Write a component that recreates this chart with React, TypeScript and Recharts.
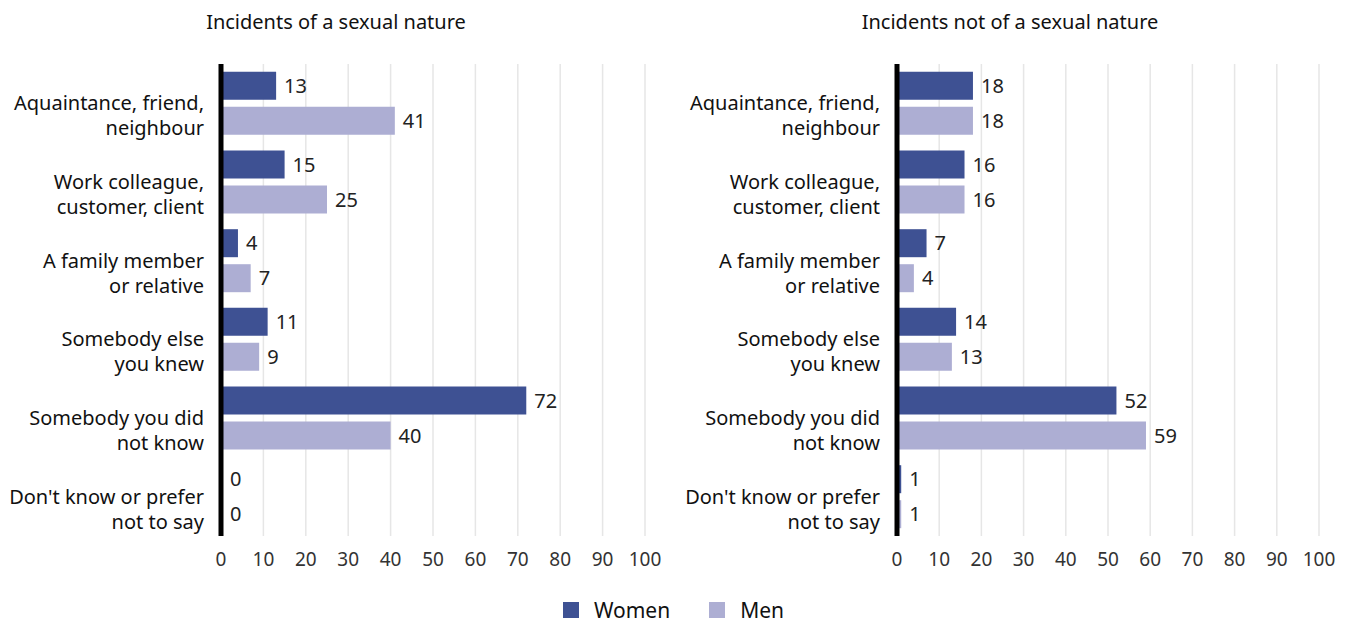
import { Bar, BarChart, CartesianGrid, LabelList, XAxis, YAxis } from "recharts";

const categories = [
  "Aquaintance, friend,\nneighbour",
  "Work colleague,\ncustomer, client",
  "A family member\nor relative",
  "Somebody else\nyou knew",
  "Somebody you did\nnot know",
  "Don't know or prefer\nnot to say",
];

const sexualWomen = [13, 15, 4, 11, 72, 0];
const sexualMen = [41, 25, 7, 9, 40, 0];
const otherWomen = [18, 16, 7, 14, 52, 1];
const otherMen = [18, 16, 4, 13, 59, 1];

const xTicks = [0, 10, 20, 30, 40, 50, 60, 70, 80, 90, 100];

const WOMEN = "#3e5193";
const MEN = "#adaed3";
const FONT = "'Noto Sans', 'Open Sans', sans-serif";

const buildRows = (women: number[], men: number[]) =>
  categories.map((name, i) => ({ name, women: women[i], men: men[i] }));

const CategoryTick = ({ x, y, payload }: any) => {
  const lines = String(payload.value).split("\n");
  return (
    <text x={x} y={y} textAnchor="end" fontSize={20} fill="#111" fontFamily={FONT}>
      {lines.map((line, i) => (
        <tspan key={i} x={x} dy={i === 0 ? 7 : 25}>
          {line}
        </tspan>
      ))}
    </text>
  );
};

function Panel({ rows, yWidth, width }: { rows: any[]; yWidth: number; width: number }) {
  return (
    <BarChart
      width={width}
      height={580}
      data={rows}
      layout="vertical"
      margin={{ top: 64, right: 28, bottom: 0, left: 0 }}
      barCategoryGap="10%"
      barGap={7}
    >
      <CartesianGrid horizontal={false} stroke="#e6e6e6" strokeWidth={1.5} />
      <XAxis
        type="number"
        domain={[0, 100]}
        ticks={xTicks}
        height={44}
        axisLine={false}
        tickLine={false}
        tickMargin={11}
        interval={0}
        tick={{ fontSize: 19, fill: "#333", fontFamily: FONT }}
      />
      <YAxis
        type="category"
        dataKey="name"
        width={yWidth}
        axisLine={{ stroke: "#000", strokeWidth: 5 }}
        tickLine={false}
        tickMargin={11}
        interval={0}
        tick={<CategoryTick />}
      />
      <Bar dataKey="women" fill={WOMEN} minPointSize={1} isAnimationActive={false}>
        <LabelList dataKey="women" position="right" offset={8} fontSize={20} fill="#222" fontFamily={FONT} />
      </Bar>
      <Bar dataKey="men" fill={MEN} minPointSize={1} isAnimationActive={false}>
        <LabelList dataKey="men" position="right" offset={8} fontSize={20} fill="#222" fontFamily={FONT} />
      </Bar>
    </BarChart>
  );
}

export default function App() {
  const titleStyle: any = {
    position: "absolute",
    top: 8,
    fontSize: 20,
    color: "#111",
    fontFamily: FONT,
    textAlign: "center",
    width: 400,
  };
  return (
    <div style={{ position: "absolute", left: 0, top: 0, width: 1347, height: 622, background: "#fff", fontFamily: FONT }}>
      <div style={{ ...titleStyle, left: 136 }}>Incidents of a sexual nature</div>
      <div style={{ ...titleStyle, left: 810 }}>Incidents not of a sexual nature</div>
      <div style={{ position: "absolute", left: 0, top: 0 }}>
        <Panel rows={buildRows(sexualWomen, sexualMen)} yWidth={221} width={673} />
      </div>
      <div style={{ position: "absolute", left: 673, top: 0 }}>
        <Panel rows={buildRows(otherWomen, otherMen)} yWidth={224} width={674} />
      </div>
      <div
        style={{
          position: "absolute",
          top: 596,
          left: 0,
          width: 1347,
          display: "flex",
          justifyContent: "center",
          alignItems: "center",
          gap: 39,
          fontSize: 21,
          color: "#111",
        }}
      >
        {[
          { label: "Women", color: WOMEN },
          { label: "Men", color: MEN },
        ].map((item) => (
          <div key={item.label} style={{ display: "flex", alignItems: "center", gap: 15 }}>
            <span style={{ width: 16, height: 16, background: item.color, display: "inline-block" }} />
            <span>{item.label}</span>
          </div>
        ))}
      </div>
    </div>
  );
}
